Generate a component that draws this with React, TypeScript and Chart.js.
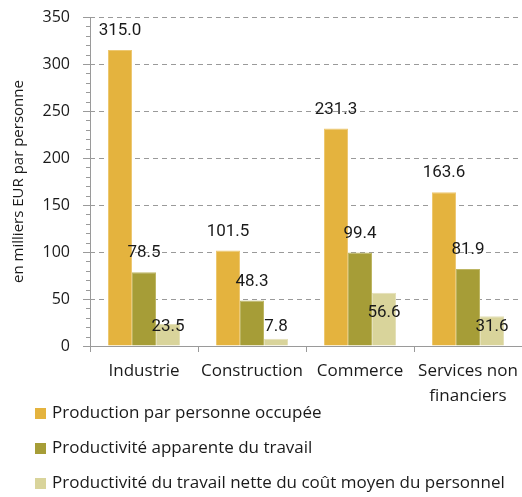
import React, { useEffect, useRef } from "react";
import { Chart, registerables } from "chart.js";

Chart.register(...registerables);

const categories: (string | string[])[] = ["Industrie", "Construction", "Commerce", ["Services non", "financiers"]];
const seriesNames = [
  "Production par personne occupée",
  "Productivité apparente du travail",
  "Productivité du travail nette du coût moyen du personnel",
];
const production = [315.0, 101.5, 231.3, 163.6];
const productivite = [78.5, 48.3, 99.4, 81.9];
const productiviteNette = [23.5, 7.8, 56.6, 31.6];
const seriesColors = ["#E4B33E", "#A69D37", "#D9D49B"];
const seriesBorders = ["#EDC872", "#BDB664", "#E4E0B8"];
const yMin = 0;
const yMax = 350;
const yStep = 50;
const yMinorStep = 10;
const yTitle = "en milliers EUR par personne";

const FONT = "'Open Sans', sans-serif";
const TEXT = "#1a1a1a";
const GRID = "#9a9a9a";

const valueLabels = {
  id: "valueLabels",
  afterDatasetsDraw(chart: any) {
    const ctx = chart.ctx;
    ctx.save();
    ctx.font = "17px Roboto, sans-serif";
    ctx.fillStyle = TEXT;
    ctx.textAlign = "center";
    ctx.textBaseline = "middle";
    chart.data.datasets.forEach((ds: any, di: number) => {
      const meta = chart.getDatasetMeta(di);
      meta.data.forEach((bar: any, i: number) => {
        const v = ds.data[i] as number;
        const top = bar.y;
        const base = bar.base;
        const y = di < 2 ? top - 19 : Math.min(top + 20, base - 19);
        ctx.fillText(v.toFixed(1), bar.x, y);
      });
    });
    ctx.restore();
  },
};

const yGrid = {
  id: "yGrid",
  beforeDatasetsDraw(chart: any) {
    const s = chart.scales.y;
    const area = chart.chartArea;
    const ctx = chart.ctx;
    ctx.save();
    ctx.strokeStyle = GRID;
    ctx.lineWidth = 1;
    for (let v = yMin; v <= yMax; v += yMinorStep) {
      const py = Math.round(s.getPixelForValue(v)) + 0.5;
      if (v % yStep === 0) {
        ctx.setLineDash([]);
        ctx.beginPath();
        ctx.moveTo(s.right - 7, py);
        ctx.lineTo(s.right, py);
        ctx.stroke();
        if (v !== yMin) {
          ctx.setLineDash([5, 4]);
          ctx.beginPath();
          ctx.moveTo(s.right, py);
          ctx.lineTo(area.right, py);
          ctx.stroke();
        }
      } else {
        ctx.setLineDash([]);
        ctx.beginPath();
        ctx.moveTo(s.right - 4, py);
        ctx.lineTo(s.right + 1, py);
        ctx.stroke();
      }
    }
    ctx.restore();
  },
};

const bottomLegend = {
  id: "bottomLegend",
  afterDraw(chart: any) {
    const ctx = chart.ctx;
    ctx.save();
    ctx.font = `17px ${FONT}`;
    ctx.textBaseline = "middle";
    ctx.textAlign = "left";
    chart.data.datasets.forEach((ds: any, i: number) => {
      const cy = chart.height - 84 + i * 35;
      ctx.fillStyle = ds.backgroundColor;
      ctx.fillRect(35, Math.round(cy - 5.5), 11, 11);
      ctx.fillStyle = TEXT;
      ctx.fillText(ds.label, 52, cy);
    });
    ctx.restore();
  },
};

export default function App() {
  const ref = useRef<HTMLCanvasElement | null>(null);
  useEffect(() => {
    document.body.style.margin = "0";
    const chart = new Chart(ref.current as HTMLCanvasElement, {
      type: "bar",
      data: {
        labels: categories as any,
        datasets: [production, productivite, productiviteNette].map((d, i) => ({
          label: seriesNames[i],
          data: d,
          backgroundColor: seriesColors[i],
          borderColor: seriesBorders[i],
          borderWidth: { top: 1, left: 1, right: 1, bottom: 0 },
          categoryPercentage: 0.667,
          barPercentage: 1,
        })),
      },
      options: {
        responsive: false,
        animation: false,
        layout: { padding: { top: 17, right: 0, left: 0, bottom: 81 } },
        plugins: { legend: { display: false }, tooltip: { enabled: false } },
        scales: {
          x: {
            afterFit(scale: any) {
              scale.paddingLeft = 0;
              scale.paddingRight = 0;
            },
            grid: {
              display: true,
              drawOnChartArea: false,
              drawTicks: true,
              tickLength: 6,
              color: GRID,
              tickColor: GRID,
              offset: true,
            },
            border: { display: true, color: GRID, width: 1 },
            ticks: {
              color: TEXT,
              font: { family: FONT, size: 17, lineHeight: "25px" },
              padding: 7,
              maxRotation: 0,
              autoSkip: false,
            },
          },
          y: {
            min: yMin,
            max: yMax,
            afterFit(scale: any) {
              scale.width = 90;
              scale.paddingTop = 0;
              scale.paddingBottom = 0;
            },
            grid: {
              display: true,
              drawOnChartArea: false,
              drawTicks: false,
            },
            border: { display: true, color: GRID, width: 1 },
            ticks: {
              stepSize: yStep,
              color: TEXT,
              font: { family: FONT, size: 16 },
              padding: 20,
            },
            title: {
              display: true,
              text: yTitle,
              color: TEXT,
              font: { family: FONT, size: 15 },
              padding: { top: 10, bottom: 0 },
            },
          },
        },
      },
      plugins: [yGrid, valueLabels, bottomLegend],
    });
    return () => chart.destroy();
  }, []);
  return (
    <div style={{ width: 522, height: 497 }}>
      <canvas ref={ref} width={522} height={497} />
    </div>
  );
}
